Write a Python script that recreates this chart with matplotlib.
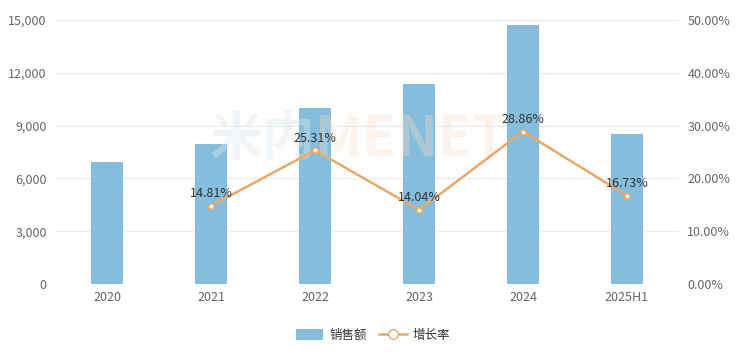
import matplotlib
matplotlib.use("Agg")
import matplotlib.pyplot as plt
from matplotlib.lines import Line2D
from matplotlib.patches import Patch

plt.rcParams['font.family'] = ['Noto Sans CJK SC', 'DejaVu Sans']

# data
years = ['2020', '2021', '2022', '2023', '2024', '2025H1']
sales = [6950, 7950, 10000, 11370, 14720, 8530]
growth_years = ['2021', '2022', '2023', '2024', '2025H1']
growth = [14.81, 25.31, 14.04, 28.86, 16.73]

bar_color = '#85bedc'
line_color = '#e9a96a'
text_color = '#666666'

fig = plt.figure(figsize=(7.46, 3.56), dpi=100)
ax = fig.add_axes([55 / 746, 72 / 356, 624 / 746, 264 / 356])

x = list(range(len(years)))
ax.bar(x, sales, width=0.31, color=bar_color, zorder=2)
ax.set_xlim(-0.5, len(years) - 0.5)
ax.set_ylim(0, 15000)
ax.set_yticks(range(0, 15001, 3000))
ax.set_yticklabels([f'{v:,}' for v in range(0, 15001, 3000)])
ax.set_xticks(x)
ax.set_xticklabels(years)
ax.grid(axis='y', color='#ebebeb', linewidth=0.8, zorder=0)
ax.set_axisbelow(True)
for s in ax.spines.values():
    s.set_visible(False)
ax.tick_params(axis='both', length=0, labelsize=9, colors=text_color, pad=6)
ax.tick_params(axis='x', pad=5)

# faint watermark behind the marks
ax.text(2.0, 8200, '米内', fontsize=38, color='#dfe7eb', alpha=0.4,
        ha='right', va='center', fontweight='bold', zorder=3)
ax.text(2.0, 8200, 'MENET', fontsize=40, color='#f8ddc9', alpha=0.35,
        ha='left', va='center', fontweight='bold', zorder=3)

ax2 = ax.twinx()
gx = [years.index(y) for y in growth_years]
ax2.plot(gx, growth, color=line_color, linewidth=1.8, marker='o',
         markersize=4, markerfacecolor='white', markeredgecolor=line_color,
         markeredgewidth=1.2, zorder=3)
for xi, g in zip(gx, growth):
    ax2.text(xi, g + 1.1, f'{g:.2f}%', ha='center', va='bottom',
             fontsize=9, color='#333333')
ax2.set_ylim(0, 50)
ax2.set_yticks(range(0, 51, 10))
ax2.set_yticklabels([f'{v:.2f}%' for v in range(0, 51, 10)])
for s in ax2.spines.values():
    s.set_visible(False)
ax2.tick_params(axis='y', length=0, labelsize=9, colors=text_color, pad=6)

handles = [Patch(facecolor=bar_color, edgecolor='none', label='销售额'),
           Line2D([0], [0], color=line_color, linewidth=1.8, marker='o',
                  markersize=7, markerfacecolor='white',
                  markeredgecolor=line_color, label='增长率')]
fig.legend(handles=handles, loc='center', bbox_to_anchor=(0.5, 21 / 356),
           ncol=2, frameon=False, fontsize=9, labelcolor='#333333',
           handlelength=2.2, handleheight=1.0, columnspacing=1.0,
           handletextpad=0.5)

fig.savefig('out.png', dpi=100)
